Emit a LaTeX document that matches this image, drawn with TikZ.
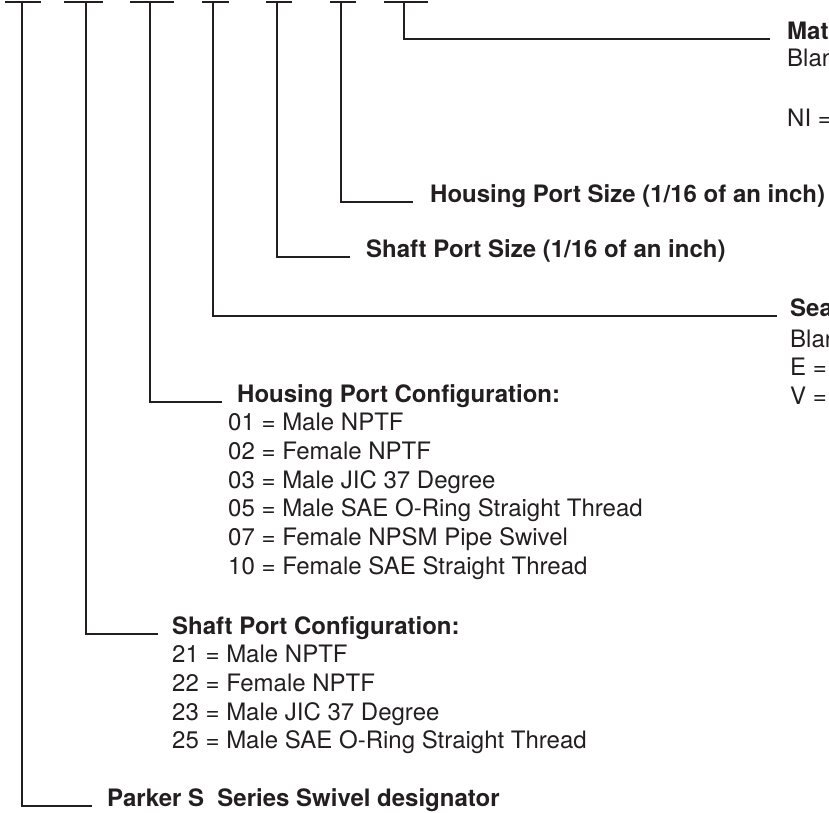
\documentclass[tikz,border=0pt]{standalone}
\usepackage{fontspec}
\setmainfont{TeX Gyre Heros}
\definecolor{ink}{HTML}{231F20}
\tikzset{
  lead/.style={draw=ink, line width=2.2pt},
  ttl/.style={anchor=base west, inner sep=0pt, text=ink, font=\fontsize{24}{28}\selectfont\bfseries},
  itm/.style={anchor=base west, inner sep=0pt, text=ink, font=\fontsize{24}{28}\selectfont},
}
\begin{document}
\begin{tikzpicture}[x=1pt,y=-1pt]
\useasboundingbox (0,0) rectangle (829,812);
\clip (0,0) rectangle (829,812);

% top bars
\coordinate (t1) at (22,2);
\coordinate (t2) at (86,2);
\coordinate (t3) at (150,2);
\coordinate (t4) at (213,2);
\coordinate (t5) at (277,2);
\coordinate (t6) at (341,2);
\coordinate (t7) at (404,2);
\draw[lead] (5,2) -- (41,2);
\draw[lead] (64,2) -- (103,2);
\draw[lead] (130,2) -- (174,2);
\draw[lead] (202,2) -- (229,2);
\draw[lead] (266,2) -- (292,2);
\draw[lead] (330,2) -- (356,2);
\draw[lead] (384,2) -- (428,2);

% Material
\node[ttl] (mat) at (787,39) {Mat};
\node[itm] (matb) at (787,66) {Blan};
\node[itm] (matn) at (787,126) {NI =};

% Housing port size
\node[ttl] (hps) at (430,202) {Housing Port Size (1/16 of an inch)};
% Shaft port size
\node[ttl] (sps) at (366,257) {Shaft Port Size (1/16 of an inch)};

% Seal
\node[ttl] (seal) at (790,316) {Sea};
\node[itm] (sealb) at (790,347) {Blan};
\node[itm] (seale) at (790,375.7) {E =};
\node[itm] (sealv) at (790,404.4) {V =};

% Housing port configuration
\node[ttl] (hcfg) at (237,402) {Housing Port Configuration:};
\node[itm] (h01) at (228,430.7) {01 = Male NPTF};
\node[itm] (h02) at (228,459.4) {02 = Female NPTF};
\node[itm] (h03) at (228,488.1) {03 = Male JIC 37 Degree};
\node[itm] (h05) at (228,516.8) {05 = Male SAE O-Ring Straight Thread};
\node[itm] (h07) at (228,545.5) {07 = Female NPSM Pipe Swivel};
\node[itm] (h10) at (228,574.2) {10 = Female SAE Straight Thread};

% Shaft port configuration
\node[ttl] (scfg) at (172,634) {Shaft Port Configuration:};
\node[itm] (s21) at (172,662.7) {21 = Male NPTF};
\node[itm] (s22) at (172,691.4) {22 = Female NPTF};
\node[itm] (s23) at (172,720.1) {23 = Male JIC 37 Degree};
\node[itm] (s25) at (172,748.8) {25 = Male SAE O-Ring Straight Thread};

% Parker designator
\node[ttl] (parker) at (107,806) {Parker S~~Series Swivel designator};

% leader lines
\draw[lead] (t1) |- ([xshift=-15pt]parker.base west);
\draw[lead] (t2) |- ([xshift=-14pt]scfg.base west);
\draw[lead] (t3) |- ([xshift=-15pt]hcfg.base west);
\draw[lead] (t4) |- ([xshift=-13pt]seal.base west);
\draw[lead] (t5) |- ([xshift=-16pt]sps.base west);
\draw[lead] (t6) |- ([xshift=-17pt]hps.base west);
\draw[lead] (t7) |- ([xshift=-17pt]mat.base west);
\end{tikzpicture}
\end{document}
